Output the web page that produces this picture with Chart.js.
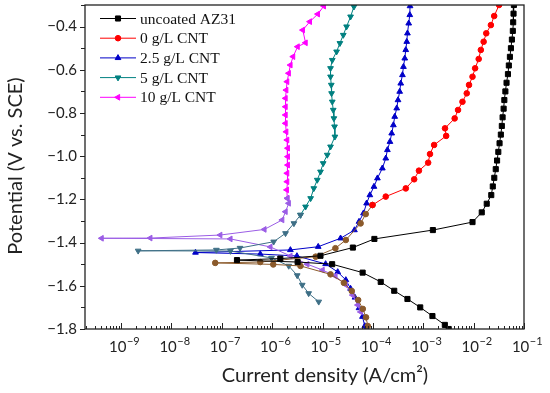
<!DOCTYPE html>
<html>
<head>
<meta charset="utf-8">
<script src="https://cdn.jsdelivr.net/npm/chart.js@4.4.1/dist/chart.umd.min.js"></script>
<style>
  html, body { margin: 0; padding: 0; background: #fff; }
</style>
</head>
<body>
<canvas id="tafelChart" width="550" height="393"></canvas>
<script>
// [current density A/cm2, potential V vs SCE]
const uncoated = [[6.3e-2,-0.30],[6.2e-2,-0.34],[6.1e-2,-0.38],[6.0e-2,-0.42],[5.75e-2,-0.46],[5.5e-2,-0.50],
  [5.25e-2,-0.54],[5.0e-2,-0.58],[4.8e-2,-0.62],[4.5e-2,-0.66],[4.27e-2,-0.70],[4.07e-2,-0.74],[3.94e-2,-0.78],
  [3.76e-2,-0.82],[3.63e-2,-0.86],[3.47e-2,-0.90],[3.27e-2,-0.94],[3.09e-2,-0.98],[2.92e-2,-1.02],[2.75e-2,-1.06],
  [2.57e-2,-1.10],[2.4e-2,-1.14],[2.24e-2,-1.18],[1.82e-2,-1.22],[1.45e-2,-1.26],[9.5e-3,-1.305],[1.55e-3,-1.342],
  [1.07e-4,-1.383],[4.0e-5,-1.423],[9.1e-6,-1.461],[1.45e-6,-1.474],[2.0e-7,-1.481],[3.2e-6,-1.49],[1.55e-5,-1.50],
  [6.25e-5,-1.539],[1.43e-4,-1.582],[2.65e-4,-1.623],[4.85e-4,-1.661],[8.7e-4,-1.70],[1.52e-3,-1.74],[2.68e-3,-1.781],
  [3.2e-3,-1.80]];

const cnt0Top = [[3.2e-2,-0.30],[2.56e-2,-0.351],[2.2e-2,-0.393],[1.78e-2,-0.431],[1.58e-2,-0.47],[1.39e-2,-0.508],
  [1.26e-2,-0.55],[1.07e-2,-0.593],[9.5e-3,-0.632],[8.1e-3,-0.67],[7.3e-3,-0.709],[6.0e-3,-0.748],[4.9e-3,-0.786],
  [4.2e-3,-0.825],[2.7e-3,-0.871],[2.85e-3,-0.906],[1.64e-3,-0.948],[1.36e-3,-0.99],[1.25e-3,-1.03],[8.2e-4,-1.067],
  [6.6e-4,-1.107],[4.5e-4,-1.149],[1.8e-4,-1.187],[9.8e-5,-1.226]];
const cnt0Bottom = [[9.8e-5,-1.226],[7.2e-5,-1.268],[5.7e-5,-1.311],[2.9e-5,-1.388],[1.8e-5,-1.426],[7.3e-6,-1.465],
  [5.8e-7,-1.49],[7.4e-8,-1.494],[1.05e-6,-1.501],[3.65e-6,-1.508],[1.44e-5,-1.547],[2.65e-5,-1.586],[3.8e-5,-1.624],
  [5.1e-5,-1.666],[6.3e-5,-1.707],[7.3e-5,-1.746],[7.9e-5,-1.786]];

const cnt25 = [[5.46e-4,-0.305],[5.4e-4,-0.346],[5.14e-4,-0.385],[4.85e-4,-0.431],[4.7e-4,-0.47],[4.49e-4,-0.508],
  [4.29e-4,-0.547],[4.04e-4,-0.586],[3.86e-4,-0.624],[3.57e-4,-0.663],[3.4e-4,-0.701],[3.15e-4,-0.74],[2.97e-4,-0.778],
  [2.71e-4,-0.817],[2.55e-4,-0.856],[2.36e-4,-0.894],[2.18e-4,-0.933],[1.94e-4,-0.971],[1.8e-4,-1.01],[1.54e-4,-1.056],
  [1.23e-4,-1.102],[1.05e-4,-1.141],[8.7e-5,-1.18],[7.5e-5,-1.218],[6.5e-5,-1.264],[5.3e-5,-1.303],[4.3e-5,-1.342],
  [2.28e-5,-1.38],[8.2e-6,-1.419],[2.3e-6,-1.434],[3.0e-8,-1.446],[5.8e-7,-1.453],[3.1e-6,-1.462],[1.15e-5,-1.499],
  [2.0e-5,-1.536],[2.9e-5,-1.573],[3.6e-5,-1.613],[4.4e-5,-1.654],[5.3e-5,-1.703],[6.2e-5,-1.743],[6.9e-5,-1.786],
  [7.2e-5,-1.80]];

const cnt5Top = [[4.2e-5,-0.308],[3.6e-5,-0.354],[3.0e-5,-0.40],[2.58e-5,-0.439],[2.21e-5,-0.477],[1.9e-5,-0.516],
  [1.56e-5,-0.555],[1.44e-5,-0.593],[1.44e-5,-0.632],[1.49e-5,-0.67],[1.51e-5,-0.709],[1.56e-5,-0.748],[1.63e-5,-0.786],
  [1.68e-5,-0.825],[1.73e-5,-0.863],[1.76e-5,-0.91],[1.44e-5,-0.956],[1.24e-5,-0.994],[1.03e-5,-1.033],[9.1e-6,-1.072],
  [7.85e-6,-1.11],[6.7e-6,-1.149],[5.8e-6,-1.195],[4.6e-6,-1.234],[3.65e-6,-1.272]];
const cnt5Bottom = [[3.65e-6,-1.272],[2.7e-6,-1.311],[1.84e-6,-1.357],[1.07e-6,-1.396],[2.3e-7,-1.425],[7.8e-8,-1.434],
  [2.18e-9,-1.438],[1.48e-7,-1.439],[9.7e-7,-1.471],[2.13e-6,-1.508],[3.14e-6,-1.552],[3.95e-6,-1.596],[5.3e-6,-1.635],
  [8.4e-6,-1.674]];

const cnt10Top = [[1.06e-5,-0.305],[8.05e-6,-0.342],[5.6e-6,-0.377],[4.05e-6,-0.416],[4.6e-6,-0.475],[3.2e-6,-0.493],
  [2.6e-6,-0.539],[2.3e-6,-0.578],[2.13e-6,-0.616],[1.98e-6,-0.655],[1.9e-6,-0.694],[1.84e-6,-0.732],[1.84e-6,-0.771],
  [1.84e-6,-0.809],[1.84e-6,-0.848],[1.9e-6,-0.887],[1.98e-6,-0.925],[2.04e-6,-0.963],[2.04e-6,-1.002],[2.04e-6,-1.041],
  [1.98e-6,-1.079],[1.98e-6,-1.118],[1.95e-6,-1.156],[2.0e-6,-1.195]];
const cnt10Bottom = [[2.0e-6,-1.195],[2.13e-6,-1.218],[1.84e-6,-1.257],[1.58e-6,-1.295],[7.0e-7,-1.339],[9.3e-8,-1.365],
  [3.8e-9,-1.379],[4.1e-10,-1.38],[1.48e-7,-1.383],[9.2e-7,-1.42],[2.3e-6,-1.462],[4.97e-6,-1.50],[1.0e-5,-1.527],
  [1.8e-5,-1.555],[2.9e-5,-1.596],[3.95e-5,-1.643],[5.0e-5,-1.689],[5.7e-5,-1.721]];

const xTickValues = [1e-9, 1e-8, 1e-7, 1e-6, 1e-5, 1e-4, 1e-3, 1e-2, 1e-1];
const yTickValues = [-1.8, -1.6, -1.4, -1.2, -1.0, -0.8, -0.6, -0.4];

const pts = arr => arr.map(p => ({ x: p[0], y: p[1] }));

function series(label, arr, color, style, radius, rotation) {
  return {
    label: label,
    data: pts(arr),
    showLine: true,
    borderColor: color,
    backgroundColor: color,
    borderWidth: 1,
    pointStyle: style,
    pointRadius: radius,
    pointRotation: rotation || 0,
    pointBorderWidth: 1,
    tension: 0
  };
}

const datasets = [
  series('uncoated AZ31', uncoated, '#000000', 'rect', 3.6),
  series('0 g/L CNT', cnt0Top, '#ff0000', 'circle', 2.8),
  series('', cnt0Bottom, '#8b5a2b', 'circle', 2.8),
  series('', cnt5Bottom, '#3e6f86', 'triangle', 3.3, 180),
  series('5 g/L CNT', cnt5Top, '#008080', 'triangle', 3.3, 180),
  series('', cnt10Bottom, '#9b5de5', 'triangle', 3.3, 270),
  series('10 g/L CNT', cnt10Top, '#ff00ff', 'triangle', 3.3, 270),
  series('2.5 g/L CNT', cnt25, '#0000c8', 'triangle', 3.3)
];
const legendOrder = ['uncoated AZ31', '0 g/L CNT', '2.5 g/L CNT', '5 g/L CNT', '10 g/L CNT'];

const axesPlugin = {
  id: 'axesPlugin',
  afterDraw(chart) {
    const { ctx, chartArea: a, scales: { x, y } } = chart;
    ctx.save();
    ctx.strokeStyle = '#222';
    ctx.fillStyle = '#222';
    ctx.lineWidth = 1.3;
    ctx.strokeRect(a.left, a.top, a.right - a.left, a.bottom - a.top);

    ctx.lineWidth = 1;
    ctx.beginPath();
    for (let e = -10; e <= -1; e++) {
      for (let m = 1; m <= 9; m++) {
        const v = m * Math.pow(10, e);
        if (v < x.min || v > x.max * 1.0001) continue;
        const px = Math.round(x.getPixelForValue(v)) + 0.5;
        const len = m === 1 ? 6 : 3;
        ctx.moveTo(px, a.bottom);
        ctx.lineTo(px, a.bottom - len);
      }
    }
    yTickValues.forEach(v => {
      const py = Math.round(y.getPixelForValue(v)) + 0.5;
      ctx.moveTo(a.left, py);
      ctx.lineTo(a.left - 5, py);
      const mid = Math.round(y.getPixelForValue(v + 0.1)) + 0.5;
      ctx.moveTo(a.left, mid);
      ctx.lineTo(a.left - 4, mid);
    });
    ctx.stroke();

    // x tick labels 10^n
    x.ticks.forEach(t => {
      const px = x.getPixelForValue(t.value);
      const exp = Math.round(Math.log10(t.value));
      const sup = '\u2212' + Math.abs(exp);
      ctx.font = '15px Lato';
      const w1 = ctx.measureText('10').width;
      ctx.font = '11px Lato';
      const w2 = ctx.measureText(sup).width;
      const x0 = px - (w1 + w2) / 2 + 3;
      ctx.textBaseline = 'alphabetic';
      ctx.textAlign = 'left';
      ctx.font = '15px Lato';
      ctx.fillText('10', x0, a.bottom + 23);
      ctx.font = '11px Lato';
      ctx.fillText(sup, x0 + w1 + 0.5, a.bottom + 16);
    });

    // y tick labels
    ctx.font = '15px Lato';
    ctx.textAlign = 'right';
    ctx.textBaseline = 'middle';
    y.ticks.forEach(t => {
      const py = y.getPixelForValue(t.value);
      ctx.fillText('\u2212' + Math.abs(t.value).toFixed(1), a.left - 8, py);
    });

    // axis titles
    ctx.font = '20px Lato';
    ctx.textAlign = 'center';
    ctx.textBaseline = 'middle';
    ctx.fillText('Current density (A/cm\u00b2)', 325, a.bottom + 47);
    ctx.save();
    ctx.translate(16, 166);
    ctx.rotate(-Math.PI / 2);
    ctx.fillText('Potential (V vs. SCE)', 0, 0);
    ctx.restore();

    // legend
    ctx.font = '15.5px "Liberation Serif"';
    ctx.textAlign = 'left';
    ctx.textBaseline = 'middle';
    legendOrder.forEach((name, i) => {
      const ds = chart.data.datasets.find(d => d.label === name);
      const ly = 18.5 + i * 19.7;
      ctx.strokeStyle = ds.borderColor;
      ctx.fillStyle = ds.backgroundColor;
      ctx.lineWidth = 1;
      ctx.beginPath();
      ctx.moveTo(100, ly);
      ctx.lineTo(136, ly);
      ctx.stroke();
      Chart.helpers.drawPoint(ctx, {
        pointStyle: ds.pointStyle,
        radius: ds.pointRadius,
        rotation: ds.pointRotation,
        borderWidth: 1
      }, 118, ly);
      ctx.fillStyle = '#111';
      ctx.fillText(name, 140, ly + 1);
    });
    ctx.restore();
  }
};

new Chart(document.getElementById('tafelChart'), {
  type: 'scatter',
  data: { datasets: datasets },
  options: {
    responsive: false,
    animation: false,
    layout: { padding: { top: 5, right: 26, left: 0, bottom: 0 } },
    plugins: { legend: { display: false }, tooltip: { enabled: false } },
    scales: {
      x: {
        type: 'logarithmic',
        min: 1.92e-10,
        max: 0.1,
        afterBuildTicks: s => { s.ticks = xTickValues.map(v => ({ value: v })); },
        afterFit: s => { s.height = 64; },
        ticks: { display: false },
        grid: { display: false },
        border: { display: false }
      },
      y: {
        min: -1.8,
        max: -0.3,
        afterBuildTicks: s => { s.ticks = yTickValues.map(v => ({ value: v })); },
        afterFit: s => { s.width = 85; },
        ticks: { display: false },
        grid: { display: false },
        border: { display: false }
      }
    }
  },
  plugins: [axesPlugin]
});
</script>
</body>
</html>
